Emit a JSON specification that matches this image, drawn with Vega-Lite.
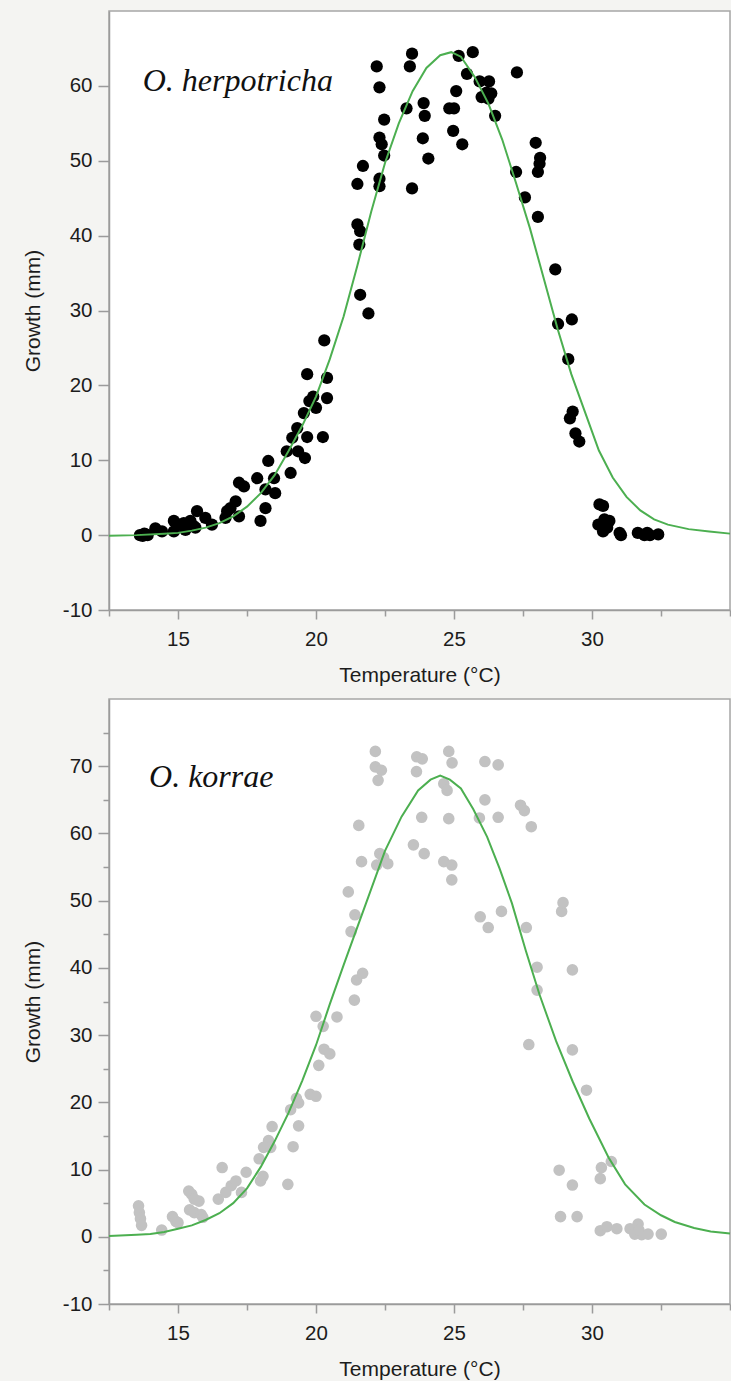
{
  "$schema": "https://vega.github.io/schema/vega-lite/v6.json",
  "background": "#f4f4f2",
  "padding": {"top": 10, "left": 21, "right": 0, "bottom": 0},
  "spacing": 11,
  "config": {
    "view": {"fill": "white", "stroke": "#a6a6a6", "strokeWidth": 1.5},
    "axis": {
      "domainColor": "#9b9b9b", "domainWidth": 1.5,
      "tickColor": "#9b9b9b", "tickWidth": 1.5,
      "labelColor": "#1c1c1c", "titleColor": "#1c1c1c",
      "labelFont": "Liberation Sans", "titleFont": "Liberation Sans",
      "titleFontWeight": "normal", "grid": false,
      "labelOverlap": false, "labelFlush": false
    },
    "axisX": {"labelPadding": 10, "titlePadding": 15, "labelFontSize": 20.5, "titleFontSize": 21},
    "axisY": {"labelPadding": 6, "titlePadding": 19, "labelFontSize": 20.5, "titleFontSize": 21}
  },
  "datasets": {
    "herp_points": [
      {"temperature": 13.62, "growth": 0.0}, {"temperature": 13.72, "growth": -0.1}, {"temperature": 13.83, "growth": 0.1}, {"temperature": 13.9, "growth": 0.0}, {"temperature": 13.78, "growth": 0.2},
      {"temperature": 14.18, "growth": 0.9}, {"temperature": 14.42, "growth": 0.5}, {"temperature": 14.85, "growth": 1.9}, {"temperature": 14.85, "growth": 0.5}, {"temperature": 15.03, "growth": 1.4},
      {"temperature": 15.21, "growth": 1.6}, {"temperature": 15.27, "growth": 0.7}, {"temperature": 15.45, "growth": 1.9}, {"temperature": 15.57, "growth": 1.2}, {"temperature": 15.63, "growth": 1.0},
      {"temperature": 15.69, "growth": 3.2}, {"temperature": 15.99, "growth": 2.3}, {"temperature": 16.23, "growth": 1.4}, {"temperature": 16.72, "growth": 2.3}, {"temperature": 16.78, "growth": 3.2},
      {"temperature": 16.9, "growth": 3.6}, {"temperature": 17.09, "growth": 4.5}, {"temperature": 17.21, "growth": 7.0}, {"temperature": 17.39, "growth": 6.5}, {"temperature": 17.21, "growth": 2.5},
      {"temperature": 17.87, "growth": 7.6}, {"temperature": 17.99, "growth": 1.9}, {"temperature": 18.17, "growth": 3.6}, {"temperature": 18.27, "growth": 9.9}, {"temperature": 18.17, "growth": 6.1},
      {"temperature": 18.48, "growth": 7.6}, {"temperature": 18.52, "growth": 5.6}, {"temperature": 19.08, "growth": 8.3}, {"temperature": 18.94, "growth": 11.2}, {"temperature": 19.14, "growth": 13.0},
      {"temperature": 19.32, "growth": 14.3}, {"temperature": 19.35, "growth": 11.2}, {"temperature": 19.6, "growth": 10.3}, {"temperature": 19.56, "growth": 16.3}, {"temperature": 19.68, "growth": 13.1},
      {"temperature": 19.68, "growth": 21.5}, {"temperature": 19.76, "growth": 17.9}, {"temperature": 19.9, "growth": 18.5}, {"temperature": 20.0, "growth": 17.0}, {"temperature": 20.25, "growth": 13.1},
      {"temperature": 20.4, "growth": 18.3}, {"temperature": 20.4, "growth": 21.0}, {"temperature": 20.3, "growth": 26.0},
      {"temperature": 21.5, "growth": 46.9}, {"temperature": 21.5, "growth": 41.5}, {"temperature": 21.6, "growth": 40.6}, {"temperature": 21.57, "growth": 38.8}, {"temperature": 21.6, "growth": 32.1},
      {"temperature": 21.7, "growth": 49.3}, {"temperature": 21.9, "growth": 29.6},
      {"temperature": 22.2, "growth": 62.6}, {"temperature": 22.3, "growth": 59.8}, {"temperature": 22.3, "growth": 53.1}, {"temperature": 22.38, "growth": 52.2}, {"temperature": 22.3, "growth": 47.6},
      {"temperature": 22.3, "growth": 46.6}, {"temperature": 22.47, "growth": 55.5}, {"temperature": 22.47, "growth": 50.7},
      {"temperature": 23.28, "growth": 57.0}, {"temperature": 23.4, "growth": 62.6}, {"temperature": 23.48, "growth": 64.3}, {"temperature": 23.48, "growth": 46.3}, {"temperature": 23.9, "growth": 57.7},
      {"temperature": 23.94, "growth": 56.0}, {"temperature": 23.87, "growth": 53.0}, {"temperature": 24.07, "growth": 50.3},
      {"temperature": 24.83, "growth": 57.0}, {"temperature": 25.0, "growth": 57.0}, {"temperature": 24.97, "growth": 54.0}, {"temperature": 25.08, "growth": 59.3}, {"temperature": 25.17, "growth": 64.0},
      {"temperature": 25.3, "growth": 52.2}, {"temperature": 25.47, "growth": 61.6}, {"temperature": 25.68, "growth": 64.5},
      {"temperature": 25.93, "growth": 60.6}, {"temperature": 26.0, "growth": 58.5}, {"temperature": 26.27, "growth": 60.6}, {"temperature": 26.18, "growth": 59.1}, {"temperature": 26.35, "growth": 59.0},
      {"temperature": 26.25, "growth": 58.3}, {"temperature": 26.49, "growth": 56.0},
      {"temperature": 27.28, "growth": 61.8}, {"temperature": 27.25, "growth": 48.5}, {"temperature": 27.57, "growth": 45.1}, {"temperature": 27.96, "growth": 52.4}, {"temperature": 28.12, "growth": 50.4},
      {"temperature": 28.1, "growth": 49.6}, {"temperature": 28.04, "growth": 48.5}, {"temperature": 28.04, "growth": 42.5},
      {"temperature": 28.67, "growth": 35.5}, {"temperature": 28.77, "growth": 28.2}, {"temperature": 29.27, "growth": 28.8}, {"temperature": 29.14, "growth": 23.5}, {"temperature": 29.2, "growth": 15.6},
      {"temperature": 29.3, "growth": 16.5}, {"temperature": 29.4, "growth": 13.6}, {"temperature": 29.54, "growth": 12.5},
      {"temperature": 30.27, "growth": 4.1}, {"temperature": 30.4, "growth": 3.9}, {"temperature": 30.23, "growth": 1.4}, {"temperature": 30.45, "growth": 2.1}, {"temperature": 30.63, "growth": 1.9},
      {"temperature": 30.4, "growth": 0.5}, {"temperature": 30.55, "growth": 1.0}, {"temperature": 31.0, "growth": 0.3}, {"temperature": 31.05, "growth": 0.0}, {"temperature": 31.66, "growth": 0.3},
      {"temperature": 31.9, "growth": 0.0}, {"temperature": 32.0, "growth": 0.3}, {"temperature": 32.1, "growth": 0.0}, {"temperature": 32.4, "growth": 0.1}
    ],
    "herp_fit": [
      {"temperature": 12.5, "growth": -0.1}, {"temperature": 13.5, "growth": 0.0}, {"temperature": 14.5, "growth": 0.2}, {"temperature": 15.0, "growth": 0.3},
      {"temperature": 15.5, "growth": 0.6}, {"temperature": 16.0, "growth": 1.0}, {"temperature": 16.5, "growth": 1.6}, {"temperature": 17.0, "growth": 2.5},
      {"temperature": 17.5, "growth": 3.8}, {"temperature": 18.0, "growth": 5.6}, {"temperature": 18.5, "growth": 8.0}, {"temperature": 19.0, "growth": 11.2},
      {"temperature": 19.5, "growth": 14.6}, {"temperature": 20.0, "growth": 18.5}, {"temperature": 20.5, "growth": 23.5}, {"temperature": 21.0, "growth": 29.2},
      {"temperature": 21.5, "growth": 36.0}, {"temperature": 22.0, "growth": 43.2}, {"temperature": 22.5, "growth": 49.7}, {"temperature": 23.0, "growth": 55.0},
      {"temperature": 23.5, "growth": 59.3}, {"temperature": 24.0, "growth": 62.4}, {"temperature": 24.5, "growth": 64.1}, {"temperature": 24.9, "growth": 64.5},
      {"temperature": 25.25, "growth": 63.9}, {"temperature": 25.75, "growth": 61.2}, {"temperature": 26.25, "growth": 57.6}, {"temperature": 26.75, "growth": 52.8},
      {"temperature": 27.25, "growth": 47.0}, {"temperature": 27.75, "growth": 41.0}, {"temperature": 28.25, "growth": 34.3}, {"temperature": 28.75, "growth": 27.6},
      {"temperature": 29.25, "growth": 21.5}, {"temperature": 29.75, "growth": 16.4}, {"temperature": 30.25, "growth": 11.3}, {"temperature": 30.75, "growth": 7.7},
      {"temperature": 31.25, "growth": 5.1}, {"temperature": 31.75, "growth": 3.3}, {"temperature": 32.25, "growth": 2.1}, {"temperature": 32.75, "growth": 1.4},
      {"temperature": 33.5, "growth": 0.8}, {"temperature": 34.25, "growth": 0.5}, {"temperature": 35.0, "growth": 0.2}
    ],
    "herp_label": [{"temperature": 13.72, "growth": 59.3, "label": "O. herpotricha"}],
    "korr_points": [
      {"temperature": 13.57, "growth": 4.6}, {"temperature": 13.6, "growth": 3.6}, {"temperature": 13.64, "growth": 2.7}, {"temperature": 13.68, "growth": 1.7}, {"temperature": 14.41, "growth": 1.0},
      {"temperature": 14.8, "growth": 3.0}, {"temperature": 14.92, "growth": 2.3}, {"temperature": 15.0, "growth": 2.1}, {"temperature": 15.39, "growth": 6.8}, {"temperature": 15.5, "growth": 6.3},
      {"temperature": 15.59, "growth": 5.6}, {"temperature": 15.76, "growth": 5.3}, {"temperature": 15.42, "growth": 4.0}, {"temperature": 15.59, "growth": 3.6}, {"temperature": 15.84, "growth": 3.3},
      {"temperature": 15.9, "growth": 2.9}, {"temperature": 16.46, "growth": 5.6}, {"temperature": 16.6, "growth": 10.3}, {"temperature": 16.73, "growth": 6.6}, {"temperature": 16.93, "growth": 7.6},
      {"temperature": 17.1, "growth": 8.3}, {"temperature": 17.3, "growth": 6.6}, {"temperature": 17.47, "growth": 9.6}, {"temperature": 17.94, "growth": 11.6}, {"temperature": 17.99, "growth": 8.3},
      {"temperature": 18.08, "growth": 9.0}, {"temperature": 18.1, "growth": 13.3}, {"temperature": 18.28, "growth": 14.3}, {"temperature": 18.36, "growth": 13.3}, {"temperature": 18.41, "growth": 16.4},
      {"temperature": 18.98, "growth": 7.8}, {"temperature": 19.08, "growth": 18.9}, {"temperature": 19.17, "growth": 13.4}, {"temperature": 19.29, "growth": 20.6}, {"temperature": 19.37, "growth": 19.9},
      {"temperature": 19.37, "growth": 16.5}, {"temperature": 19.79, "growth": 21.2}, {"temperature": 20.0, "growth": 20.9}, {"temperature": 20.0, "growth": 32.8}, {"temperature": 20.1, "growth": 25.5},
      {"temperature": 20.26, "growth": 31.3}, {"temperature": 20.29, "growth": 27.9}, {"temperature": 20.5, "growth": 27.2}, {"temperature": 20.76, "growth": 32.7},
      {"temperature": 21.17, "growth": 51.3}, {"temperature": 21.27, "growth": 45.4}, {"temperature": 21.41, "growth": 47.9}, {"temperature": 21.39, "growth": 35.2}, {"temperature": 21.47, "growth": 38.2},
      {"temperature": 21.69, "growth": 39.2}, {"temperature": 21.55, "growth": 61.2}, {"temperature": 21.65, "growth": 55.8},
      {"temperature": 22.15, "growth": 72.2}, {"temperature": 22.15, "growth": 69.9}, {"temperature": 22.37, "growth": 69.4}, {"temperature": 22.25, "growth": 67.9}, {"temperature": 22.31, "growth": 57.0},
      {"temperature": 22.2, "growth": 55.3}, {"temperature": 22.6, "growth": 55.5}, {"temperature": 22.45, "growth": 56.4},
      {"temperature": 23.65, "growth": 71.4}, {"temperature": 23.85, "growth": 71.1}, {"temperature": 23.64, "growth": 69.2}, {"temperature": 23.83, "growth": 62.4}, {"temperature": 23.53, "growth": 58.3},
      {"temperature": 23.92, "growth": 57.0}, {"temperature": 24.81, "growth": 72.2}, {"temperature": 24.93, "growth": 70.5}, {"temperature": 24.63, "growth": 67.4}, {"temperature": 24.75, "growth": 66.4},
      {"temperature": 24.81, "growth": 62.2}, {"temperature": 24.63, "growth": 55.8}, {"temperature": 24.92, "growth": 55.3}, {"temperature": 24.92, "growth": 53.1},
      {"temperature": 25.92, "growth": 62.3}, {"temperature": 26.12, "growth": 70.7}, {"temperature": 26.6, "growth": 70.2}, {"temperature": 26.12, "growth": 65.0}, {"temperature": 26.6, "growth": 62.4},
      {"temperature": 25.95, "growth": 47.6}, {"temperature": 26.24, "growth": 46.0}, {"temperature": 26.72, "growth": 48.4},
      {"temperature": 27.41, "growth": 64.2}, {"temperature": 27.55, "growth": 63.4}, {"temperature": 27.8, "growth": 61.0}, {"temperature": 27.62, "growth": 46.0}, {"temperature": 28.01, "growth": 40.1},
      {"temperature": 28.01, "growth": 36.7}, {"temperature": 27.71, "growth": 28.6}, {"temperature": 28.9, "growth": 48.4}, {"temperature": 28.95, "growth": 49.7}, {"temperature": 29.29, "growth": 39.7},
      {"temperature": 29.29, "growth": 27.8}, {"temperature": 29.8, "growth": 21.8}, {"temperature": 28.81, "growth": 9.9}, {"temperature": 29.29, "growth": 7.7}, {"temperature": 28.86, "growth": 3.0},
      {"temperature": 29.46, "growth": 3.0}, {"temperature": 30.3, "growth": 8.65}, {"temperature": 30.34, "growth": 10.3}, {"temperature": 30.7, "growth": 11.2},
      {"temperature": 30.3, "growth": 0.9}, {"temperature": 30.54, "growth": 1.5}, {"temperature": 30.9, "growth": 1.2}, {"temperature": 31.38, "growth": 1.2}, {"temperature": 31.67, "growth": 1.9},
      {"temperature": 31.55, "growth": 0.4}, {"temperature": 31.8, "growth": 0.3}, {"temperature": 31.7, "growth": 1.0}, {"temperature": 32.03, "growth": 0.4}, {"temperature": 32.51, "growth": 0.4}
    ],
    "korr_fit": [
      {"temperature": 12.5, "growth": 0.1}, {"temperature": 13.5, "growth": 0.3}, {"temperature": 14.0, "growth": 0.4}, {"temperature": 14.5, "growth": 0.7},
      {"temperature": 15.0, "growth": 1.2}, {"temperature": 15.5, "growth": 1.7}, {"temperature": 16.0, "growth": 2.5}, {"temperature": 16.5, "growth": 3.5},
      {"temperature": 17.0, "growth": 5.0}, {"temperature": 17.5, "growth": 7.2}, {"temperature": 18.0, "growth": 10.4}, {"temperature": 18.5, "growth": 14.2},
      {"temperature": 19.0, "growth": 18.4}, {"temperature": 19.5, "growth": 23.2}, {"temperature": 20.0, "growth": 28.5}, {"temperature": 20.5, "growth": 34.6},
      {"temperature": 21.0, "growth": 40.4}, {"temperature": 21.35, "growth": 44.4}, {"temperature": 21.9, "growth": 50.6}, {"temperature": 22.5, "growth": 57.4},
      {"temperature": 23.1, "growth": 62.5}, {"temperature": 23.7, "growth": 66.4}, {"temperature": 24.15, "growth": 68.0}, {"temperature": 24.5, "growth": 68.6},
      {"temperature": 24.85, "growth": 68.0}, {"temperature": 25.25, "growth": 66.7}, {"temperature": 25.7, "growth": 63.6}, {"temperature": 26.2, "growth": 59.5},
      {"temperature": 26.65, "growth": 54.8}, {"temperature": 27.1, "growth": 49.6}, {"temperature": 27.6, "growth": 42.6}, {"temperature": 28.1, "growth": 36.0},
      {"temperature": 28.7, "growth": 29.1}, {"temperature": 29.3, "growth": 23.1}, {"temperature": 29.9, "growth": 17.6}, {"temperature": 30.6, "growth": 11.8},
      {"temperature": 31.2, "growth": 7.8}, {"temperature": 31.9, "growth": 4.8}, {"temperature": 32.5, "growth": 3.2}, {"temperature": 33.0, "growth": 2.2},
      {"temperature": 33.7, "growth": 1.3}, {"temperature": 34.3, "growth": 0.8}, {"temperature": 35.0, "growth": 0.5}
    ],
    "korr_label": [{"temperature": 13.95, "growth": 66.9, "label": "O. korrae"}]
  },
  "vconcat": [
    {
      "width": 621,
      "height": 599,
      "encoding": {
        "x": {
          "field": "temperature", "type": "quantitative",
          "scale": {"domain": [12.5, 35], "nice": false, "zero": false},
          "axis": {
            "title": "Temperature (°C)",
            "values": [12.5, 15, 17.5, 20, 22.5, 25, 27.5, 30, 32.5, 35],
            "labelExpr": "datum.value % 5 === 0 && datum.value < 34 ? datum.label : ''",
            "tickSize": {"condition": {"test": "datum.value % 5 !== 0 || datum.value > 34", "value": 6}, "value": 9}
          }
        },
        "y": {
          "field": "growth", "type": "quantitative",
          "scale": {"domain": [-10, 70], "nice": false, "zero": false},
          "axis": {
            "title": "Growth (mm)",
            "values": [-10, 0, 10, 20, 30, 40, 50, 60],
            "labelExpr": "replace(datum.label, '−', '-')",
            "tickSize": 11
          }
        }
      },
      "layer": [
        {
          "data": {"name": "herp_points"},
          "mark": {"type": "circle", "size": 150, "color": "#000000", "opacity": 1}
        },
        {
          "data": {"name": "herp_fit"},
          "mark": {"type": "line", "color": "#4caf50", "strokeWidth": 2}
        },
        {
          "data": {"name": "herp_label"},
          "mark": {"type": "text", "align": "left", "baseline": "alphabetic", "font": "Liberation Serif", "fontStyle": "italic", "fontSize": 32, "color": "#111111"},
          "encoding": {"text": {"field": "label"}}
        }
      ]
    },
    {
      "width": 621,
      "height": 605,
      "encoding": {
        "x": {
          "field": "temperature", "type": "quantitative",
          "scale": {"domain": [12.5, 35], "nice": false, "zero": false},
          "axis": {
            "title": "Temperature (°C)",
            "values": [12.5, 15, 17.5, 20, 22.5, 25, 27.5, 30, 32.5, 35],
            "labelExpr": "datum.value % 5 === 0 && datum.value < 34 ? datum.label : ''",
            "tickSize": {"condition": {"test": "datum.value % 5 !== 0 || datum.value > 34", "value": 6}, "value": 9}
          }
        },
        "y": {
          "field": "growth", "type": "quantitative",
          "scale": {"domain": [-10, 80], "nice": false, "zero": false},
          "axis": {
            "title": "Growth (mm)",
            "values": [-10, -5, 0, 5, 10, 15, 20, 25, 30, 35, 40, 45, 50, 55, 60, 65, 70, 75],
            "labelExpr": "datum.value % 10 === 0 ? replace(datum.label, '−', '-') : ''",
            "tickSize": {"condition": {"test": "datum.value % 10 !== 0", "value": 6}, "value": 11}
          }
        }
      },
      "layer": [
        {
          "data": {"name": "korr_points"},
          "mark": {"type": "circle", "size": 135, "color": "#c2c2c2", "opacity": 1}
        },
        {
          "data": {"name": "korr_fit"},
          "mark": {"type": "line", "color": "#4caf50", "strokeWidth": 2}
        },
        {
          "data": {"name": "korr_label"},
          "mark": {"type": "text", "align": "left", "baseline": "alphabetic", "font": "Liberation Serif", "fontStyle": "italic", "fontSize": 32, "color": "#111111"},
          "encoding": {"text": {"field": "label"}}
        }
      ]
    }
  ]
}
